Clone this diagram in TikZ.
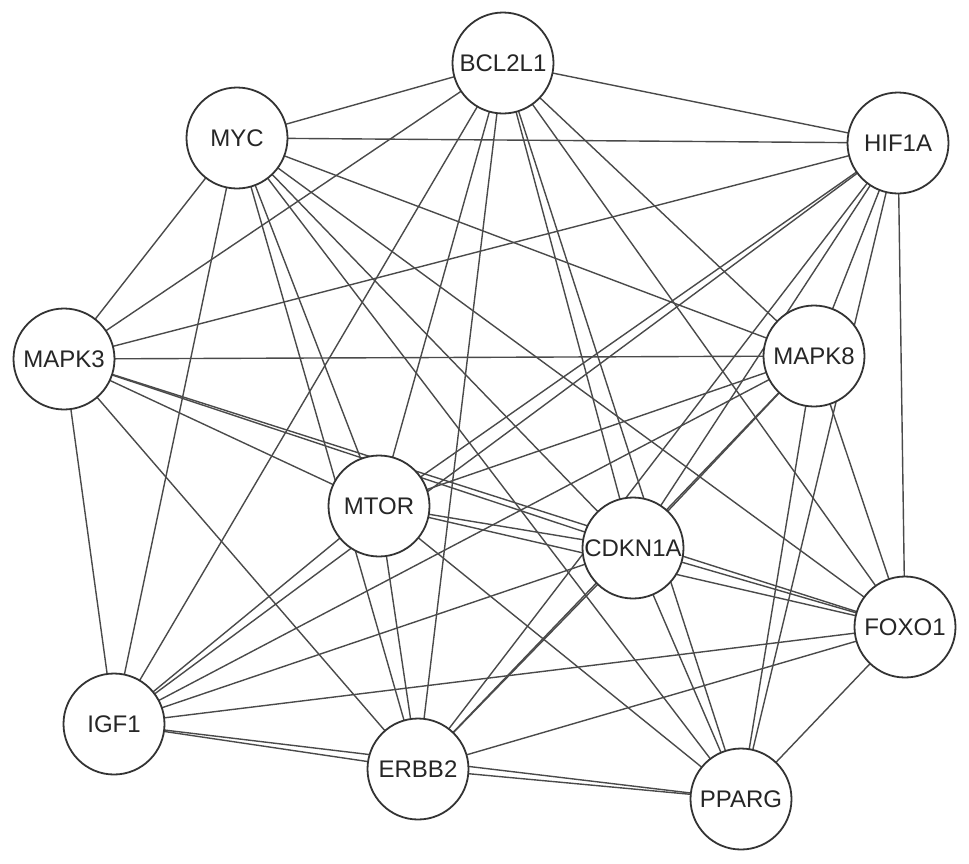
\documentclass[tikz,border=0pt]{standalone}
\usepackage{fontspec}
\setmainfont{Liberation Sans}
\usetikzlibrary{backgrounds}
\definecolor{edgecol}{HTML}{4A4A4A}
\definecolor{nodecol}{HTML}{333333}
\tikzset{
  gene/.style={circle, draw=nodecol, fill=white, line width=1.8pt, minimum size=101pt, inner sep=0pt, font=\fontsize{24}{27}\selectfont, text=black!85},
  edge/.style={draw=edgecol, line width=1.4pt}
}
\begin{document}
\begin{tikzpicture}[x=1pt,y=-1pt]
\useasboundingbox (0,0) rectangle (969,863);
\node[gene] (bcl) at (503,63) {BCL2L1};
\node[gene] (myc) at (237,138) {MYC};
\node[gene] (hif) at (898,143) {HIF1A};
\node[gene] (mk3) at (64,359) {MAPK3};
\node[gene] (mk8) at (814,356) {MAPK8};
\node[gene] (mtor) at (379,506) {MTOR};
\node[gene] (cdk) at (633,548) {CDKN1A};
\node[gene] (foxo) at (905,627) {FOXO1};
\node[gene] (igf) at (114,724) {IGF1};
\node[gene] (erbb) at (418,769) {ERBB2};
\node[gene] (pparg) at (741,799) {PPARG};
\begin{scope}[on background layer]
\foreach \a/\b in {bcl/myc,bcl/hif,bcl/mk3,bcl/mk8,bcl/mtor,bcl/cdk,bcl/foxo,bcl/igf,bcl/erbb,bcl/pparg,
  myc/hif,myc/mk3,myc/mk8,myc/mtor,myc/cdk,myc/foxo,myc/igf,myc/erbb,myc/pparg,
  hif/mk3,hif/mk8,hif/mtor,hif/cdk,hif/foxo,hif/igf,hif/erbb,hif/pparg,
  mk3/mk8,mk3/mtor,mk3/cdk,mk3/foxo,mk3/igf,mk3/erbb,
  mk8/mtor,mk8/cdk,mk8/foxo,mk8/igf,mk8/erbb,mk8/pparg,
  mtor/cdk,mtor/foxo,mtor/igf,mtor/erbb,mtor/pparg,
  cdk/foxo,cdk/igf,cdk/erbb,cdk/pparg,
  foxo/igf,foxo/erbb,foxo/pparg,
  igf/erbb,igf/pparg,
  erbb/pparg}
  \draw[edge] (\a.center) -- (\b.center);
\end{scope}
\end{tikzpicture}
\end{document}
